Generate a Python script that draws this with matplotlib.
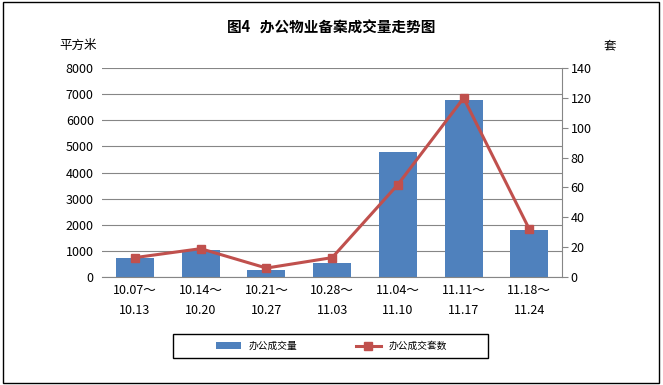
import matplotlib.pyplot as plt
from matplotlib.patches import Rectangle

plt.rcParams['font.family'] = ['Noto Sans CJK SC', 'DejaVu Sans']

# dados
semanas = ['10.07～\n10.13', '10.14～\n10.20', '10.21～\n10.27', '10.28～\n11.03',
           '11.04～\n11.10', '11.11～\n11.17', '11.18～\n11.24']
area = [730, 1030, 270, 550, 4790, 6780, 1800]
unidades = [13, 19, 6, 13, 62, 120, 32]

fig = plt.figure(figsize=(6.63, 3.85), dpi=100)
ax = fig.add_axes([0.154, 0.2805, 0.694, 0.5425])
x = list(range(len(semanas)))

ax.bar(x, area, width=0.58, color='#4F81BD', label='办公成交量', zorder=2)
ax.set_ylim(0, 8000)
ax.set_yticks(range(0, 8001, 1000))
ax.set_xlim(-0.5, len(semanas) - 0.5)
ax.set_xticks(x)
ax.set_xticklabels(semanas, fontsize=9, linespacing=1.7)
ax.yaxis.grid(True, color='#868686', linewidth=0.8)
ax.set_axisbelow(True)
ax.tick_params(axis='y', length=0, labelsize=9, pad=6)
ax.tick_params(axis='x', length=0, pad=5)
for s in ['left', 'top', 'right']:
    ax.spines[s].set_visible(False)
ax.spines['bottom'].set_color('#868686')

ax2 = ax.twinx()
ax2.plot(x, unidades, color='#C0504D', linewidth=2.2, marker='s', markersize=6,
         label='办公成交套数', zorder=3)
ax2.set_ylim(0, 140)
ax2.set_yticks(range(0, 141, 20))
ax2.tick_params(axis='y', labelsize=9, length=4, color='#868686', pad=2)
for s in ['left', 'top', 'bottom']:
    ax2.spines[s].set_visible(False)
ax2.spines['right'].set_color('#868686')

fig.text(0.5, 0.928, '图4   办公物业备案成交量走势图', ha='center', va='center',
         fontsize=10.5, fontweight='heavy')
fig.text(0.09, 0.882, '平方米', ha='left', va='center', fontsize=9)
fig.text(0.92, 0.882, '套', ha='center', va='center', fontsize=9)

# legenda sem moldura + retangulo desenhado a parte
h1, l1 = ax.get_legend_handles_labels()
h2, l2 = ax2.get_legend_handles_labels()
fig.legend(h1 + h2, l1 + l2, loc='center', bbox_to_anchor=(0.50, 0.101, 0, 0),
           ncol=2, fontsize=7, frameon=False, handlelength=2.6, columnspacing=6)
fig.patches.append(Rectangle((0.261, 0.070), 0.475, 0.062, transform=fig.transFigure,
                             fill=False, edgecolor='black', linewidth=1))

# borda externa
fig.patches.append(Rectangle((0.004, 0.005), 0.99, 0.99, transform=fig.transFigure,
                             fill=False, edgecolor='black', linewidth=1))

fig.savefig('out.png', dpi=100)
